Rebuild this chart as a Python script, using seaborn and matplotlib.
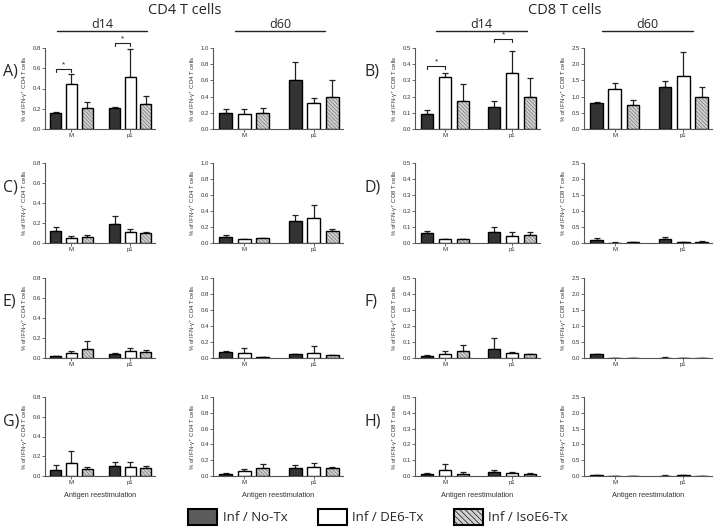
import numpy as np
import pandas as pd
import matplotlib.pyplot as plt
import matplotlib.patches as mpatches
from matplotlib.lines import Line2D
import seaborn as sns

# groups / treatments
groups = ['M', 'p1']
treatments = ['Inf / No-Tx', 'Inf / DE6-Tx', 'Inf / IsoE6-Tx']

# means per panel: rows A/B, C/D, E/F, G/H ; each row = [No-Tx, DE6-Tx, IsoE6-Tx], each [M, p1]
cd4_d14_mean = [
    [[0.16, 0.21], [0.44, 0.515], [0.21, 0.245]],
    [[0.12, 0.19], [0.05, 0.11], [0.065, 0.105]],
    [[0.02, 0.045], [0.055, 0.075], [0.09, 0.065]],
    [[0.065, 0.10], [0.13, 0.09], [0.07, 0.08]],
]
cd4_d14_err = [
    [[0.01, 0.01], [0.10, 0.275], [0.055, 0.085]],
    [[0.04, 0.08], [0.025, 0.035], [0.015, 0.01]],
    [[0.003, 0.003], [0.015, 0.028], [0.085, 0.02]],
    [[0.045, 0.04], [0.125, 0.05], [0.025, 0.02]],
]
cd4_d60_mean = [
    [[0.20, 0.61], [0.18, 0.32], [0.20, 0.40]],
    [[0.08, 0.27], [0.05, 0.31], [0.06, 0.155]],
    [[0.08, 0.045], [0.06, 0.065], [0.015, 0.035]],
    [[0.03, 0.10], [0.06, 0.11], [0.10, 0.10]],
]
cd4_d60_err = [
    [[0.05, 0.22], [0.07, 0.06], [0.06, 0.20]],
    [[0.025, 0.08], [0.005, 0.16], [0.005, 0.025]],
    [[0.005, 0.003], [0.065, 0.08], [0.003, 0.008]],
    [[0.01, 0.035], [0.03, 0.05], [0.05, 0.02]],
]
cd8_d14_mean = [
    [[0.095, 0.135], [0.32, 0.345], [0.175, 0.20]],
    [[0.06, 0.07], [0.025, 0.043], [0.025, 0.047]],
    [[0.015, 0.055], [0.028, 0.033], [0.045, 0.025]],
    [[0.01, 0.027], [0.037, 0.02], [0.015, 0.015]],
]
cd8_d14_err = [
    [[0.02, 0.035], [0.025, 0.135], [0.105, 0.115]],
    [[0.013, 0.027], [0.003, 0.025], [0.003, 0.023]],
    [[0.004, 0.072], [0.015, 0.005], [0.037, 0.003]],
    [[0.007, 0.01], [0.037, 0.008], [0.01, 0.005]],
]
cd8_d60_mean = [
    [[0.79, 1.30], [1.22, 1.64], [0.74, 1.00]],
    [[0.10, 0.11], [0.01, 0.02], [0.02, 0.03]],
    [[0.12, 0.015], [0.01, 0.01], [0.01, 0.01]],
    [[0.02, 0.015], [0.01, 0.02], [0.01, 0.01]],
]
cd8_d60_err = [
    [[0.04, 0.18], [0.19, 0.73], [0.15, 0.29]],
    [[0.05, 0.07], [0.01, 0.02], [0.005, 0.02]],
    [[0.02, 0.005], [0.003, 0.003], [0.003, 0.003]],
    [[0.005, 0.005], [0.005, 0.02], [0.005, 0.003]],
]

ymax = {'cd4_d14': 0.8, 'cd4_d60': 1.0, 'cd8_d14': 0.5, 'cd8_d60': 2.5}
ystep = {'cd4_d14': 0.2, 'cd4_d60': 0.2, 'cd8_d14': 0.1, 'cd8_d60': 0.5}
# significance brackets (group index, bracket height) on first row only
sig_cd4 = [(0, 0.59), (1, 0.85)]
sig_cd8 = [(0, 0.39), (1, 0.555)]

panel_letters = [('A)', 'B)'), ('C)', 'D)'), ('E)', 'F)'), ('G)', 'H)')]

sns.set_theme(style='ticks')
plt.rcParams['font.family'] = ['Liberation Sans', 'DejaVu Sans']
plt.rcParams['hatch.linewidth'] = 0.45
plt.rcParams['hatch.color'] = '#6e6e6e'

W, H = 723, 528
fig = plt.figure(figsize=(7.23, 5.28), dpi=100)

cols = [(45, 155), (213, 343), (415, 540), (584, 712)]
rows = [(48, 129), (163, 243), (278, 358), (397, 476)]

bar_colors = ['#333333', 'white', '#d0d0d0']
axis_col = '#555555'
hatch_pat = '\\' * 9

col_data = [('cd4_d14', cd4_d14_mean, cd4_d14_err, 'CD4'),
            ('cd4_d60', cd4_d60_mean, cd4_d60_err, 'CD4'),
            ('cd8_d14', cd8_d14_mean, cd8_d14_err, 'CD8'),
            ('cd8_d60', cd8_d60_mean, cd8_d60_err, 'CD8')]


def draw_panel(ax, key, means, errs, cell, show_xlabel):
    df = pd.DataFrame({
        'group': groups * 3,
        'treatment': [t for t in treatments for _ in groups],
        'value': [v for m in means for v in m],
    })
    sns.barplot(data=df, x='group', y='value', hue='treatment', order=groups,
                hue_order=treatments, palette=dict(zip(treatments, bar_colors)),
                errorbar=None, gap=0.3, width=0.8, legend=False, ax=ax,
                saturation=1, linewidth=1.0, edgecolor='black')
    centers = {}
    for i, (cont, t) in enumerate(zip(ax.containers, treatments)):
        xs, ys = [], []
        for j, bar in enumerate(cont):
            xc = bar.get_x() + bar.get_width() / 2
            xs.append(xc)
            ys.append(bar.get_height())
            centers[(i, j)] = xc
            bar.set_zorder(3)
            if i == 2:
                # hatch drawn in grey, outline added on top in black
                bar.set_hatch(hatch_pat)
                bar.set_edgecolor('#707070')
                bar.set_linewidth(0)
                ax.add_patch(mpatches.Rectangle(bar.get_xy(), bar.get_width(), bar.get_height(),
                                                fill=False, ec='black', lw=1.0, zorder=4))
        e = np.array(errs[i])
        ax.errorbar(xs, ys, yerr=[np.zeros_like(e), e], fmt='none', ecolor='#222222',
                    elinewidth=0.9, capsize=2.3, capthick=0.9, zorder=2)
    ax.set_xlim(-0.45, 1.42)
    ax.set_ylim(0, ymax[key])
    ticks = np.round(np.arange(0, ymax[key] + 1e-9, ystep[key]), 2)
    ax.set_yticks(ticks)
    ax.set_yticklabels([f'{t:.1f}' for t in ticks])
    ax.tick_params(axis='both', labelsize=4.3, length=2, width=0.6, pad=1,
                   colors=axis_col, labelcolor='#333333')
    sns.despine(ax=ax)
    for s in ['left', 'bottom']:
        ax.spines[s].set_linewidth(0.8)
        ax.spines[s].set_color(axis_col)
    ax.set_ylabel(f'% of IFN-γ$^{{+}}$ {cell} T cells', fontsize=4.3, labelpad=2, color='#333333')
    if show_xlabel:
        ax.set_xlabel('Antigen reestimulation', fontsize=5.3, labelpad=5, color='#333333')
    else:
        ax.set_xlabel('')
    return centers


for r, (top, bot) in enumerate(rows):
    for c, (left, right) in enumerate(cols):
        key, mean, err, cell = col_data[c]
        ax = fig.add_axes([left / W, 1 - bot / H, (right - left) / W, (bot - top) / H])
        centers = draw_panel(ax, key, mean[r], err[r], cell, r == 3)
        if r == 0 and key in ('cd4_d14', 'cd8_d14'):
            sig = sig_cd4 if key == 'cd4_d14' else sig_cd8
            tick = ymax[key] * 0.035
            for g, h in sig:
                x0, x1 = centers[(0, g)], centers[(1, g)]
                ax.plot([x0, x0, x1, x1], [h - tick, h, h, h - tick], color='#222222',
                        lw=0.8, clip_on=False)
                ax.text((x0 + x1) / 2, h + ymax[key] * 0.01, '*', ha='center', va='bottom',
                        fontsize=6, clip_on=False)
    fig.text(3 / W, 1 - (top + 24) / H, panel_letters[r][0], fontsize=11.5,
             family=['Open Sans', 'DejaVu Sans'], va='center')
    fig.text(365 / W, 1 - (top + 24) / H, panel_letters[r][1], fontsize=11.5,
             family=['Open Sans', 'DejaVu Sans'], va='center')

# headers
hfont = ['Open Sans', 'DejaVu Sans']
fig.text(185 / W, 1 - 10 / H, 'CD4 T cells', ha='center', va='center', fontsize=10.5, family=hfont)
fig.text(565 / W, 1 - 10 / H, 'CD8 T cells', ha='center', va='center', fontsize=10.5, family=hfont)
for x0, x1, lab in [(57, 147, 'd14'), (235, 325, 'd60'), (436, 527, 'd14'), (602, 693, 'd60')]:
    fig.text((x0 + x1) / 2 / W, 1 - 24 / H, lab, ha='center', va='center', fontsize=9, family=hfont)
    fig.add_artist(Line2D([x0 / W, x1 / W], [1 - 31 / H, 1 - 31 / H], color='#222222', lw=1.0))

# legend
handles = [mpatches.Patch(facecolor='#5c5c5c', edgecolor='black', lw=1.5, label=treatments[0]),
           mpatches.Patch(facecolor='white', edgecolor='black', lw=1.5, label=treatments[1]),
           mpatches.Patch(facecolor='#d0d0d0', edgecolor='black', lw=1.5, hatch='\\' * 6,
                          label=treatments[2])]
leg = fig.legend(handles=handles, loc='center', bbox_to_anchor=(378 / W, 1 - 517 / H), ncol=3,
                 frameon=False, handlelength=2.2, handleheight=1.4,
                 columnspacing=2.3, handletextpad=0.4, prop={'family': hfont, 'size': 9.5})

fig.savefig('out.png', dpi=100)
